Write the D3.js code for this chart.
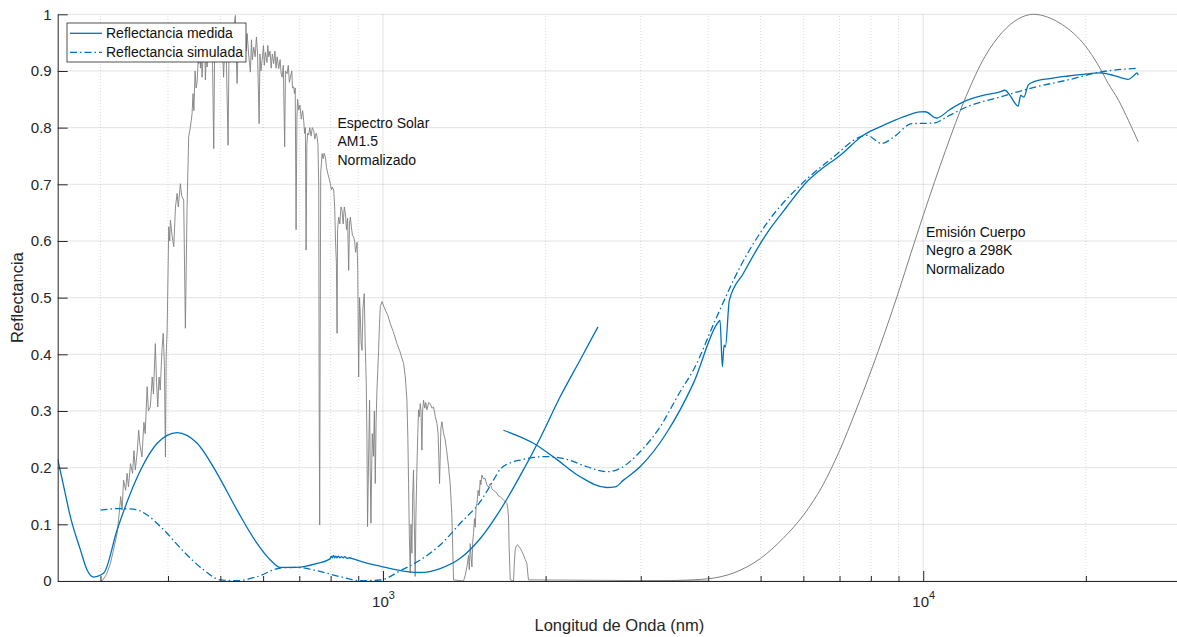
<!DOCTYPE html>
<html>
<head>
<meta charset="utf-8">
<script src="https://cdn.jsdelivr.net/npm/d3@7"></script>
<style>
  body { margin: 0; background: #fff; }
  svg { display: block; font-family: "Liberation Sans", Arial, Helvetica, sans-serif; }
</style>
</head>
<body>
<svg id="chart" width="1177" height="637"></svg>
<script>
// ---- data (wavelength in nm, value normalised 0..1) ----
const xMajorTicks = [1000, 10000]
const xMajorExp = ["3", "4"]
const xMinorTicks = [300, 400, 500, 600, 700, 800, 900, 2000, 3000, 4000, 5000, 6000, 7000, 8000, 9000, 20000]
const yTicks = [0, 0.1, 0.2, 0.3, 0.4, 0.5, 0.6, 0.7, 0.8, 0.9, 1]
const yTickLabels = ["0", "0.1", "0.2", "0.3", "0.4", "0.5", "0.6", "0.7", "0.8", "0.9", "1"]
const legendLabels = ["Reflectancia medida", "Reflectancia simulada"]

// AM1.5 solar spectrum, normalised
const solarSpectrum = [
  [300, 0], [302, 0], [308, 0.012], [313, 0.031], [318, 0.06], [322, 0.084], [325, 0.12], [327, 0.149],
  [329, 0.125], [331, 0.178], [334, 0.16], [336, 0.19], [338, 0.166], [341, 0.207], [344, 0.19],
  [346, 0.23], [348, 0.196], [351, 0.23], [353, 0.266], [355, 0.24], [358, 0.219], [361, 0.28],
  [363, 0.26], [366, 0.343], [368, 0.3], [371, 0.307], [374, 0.36], [376, 0.33], [379, 0.419],
  [381, 0.35], [383, 0.307], [385, 0.36], [387, 0.337], [390, 0.41], [392, 0.437], [394, 0.38],
  [395.7, 0.219], [397, 0.4], [398.6, 0.443], [401.3, 0.625], [403, 0.6], [404.2, 0.637], [407, 0.61],
  [410, 0.59], [413, 0.66], [415.9, 0.684], [418, 0.66], [421.7, 0.701], [424, 0.68], [427.7, 0.672],
  [430.8, 0.446], [433.9, 0.66], [436.9, 0.784], [440, 0.8], [443.3, 0.825], [445, 0.86], [446.7, 0.83],
  [449, 0.9], [451, 0.87], [452.9, 0.88], [455, 0.92], [456, 0.913], [458, 0.94], [459.3, 0.905],
  [461, 0.93], [462.6, 0.889], [464, 0.915], [465.9, 0.925], [467.5, 0.95], [469.2, 0.884], [471, 0.93],
  [472.6, 0.907], [474.5, 0.945], [475.9, 0.93], [477.5, 0.975], [479.3, 0.96], [481, 0.92],
  [483, 0.955], [486.1, 0.763], [488, 0.93], [490, 0.96], [493.2, 0.919], [496, 0.975], [498, 0.935],
  [500, 0.937], [503, 0.978], [505, 0.93], [507, 0.889], [510, 0.955], [513, 0.92], [516.8, 0.769],
  [519, 0.95], [521.9, 0.93], [525, 0.97], [528, 0.94], [531, 0.985], [533.1, 0.998], [535, 0.93],
  [537, 0.878], [540, 0.96], [542, 0.93], [544.5, 0.972], [547, 0.945], [550, 0.975], [552.3, 0.948],
  [556, 0.97], [558, 0.935], [560.6, 0.966], [564, 0.93], [568.3, 0.898], [571, 0.955], [573, 0.92],
  [576.5, 0.942], [580, 0.925], [583.2, 0.96], [586, 0.93], [589.9, 0.807], [592, 0.93], [594.5, 0.9],
  [597.5, 0.919], [601, 0.945], [603, 0.91], [606, 0.933], [610, 0.915], [612, 0.945], [614.6, 0.925],
  [618, 0.935], [621, 0.905], [624, 0.93], [627.7, 0.913], [631, 0.935], [634, 0.905], [637, 0.925],
  [641.3, 0.904], [645, 0.92], [648, 0.895], [650.7, 0.889], [654, 0.91], [657.7, 0.766], [660, 0.9],
  [664.6, 0.895], [668, 0.91], [671, 0.88], [674, 0.889], [678, 0.9], [680, 0.87], [683.4, 0.872],
  [686, 0.86], [688, 0.87], [690.5, 0.62], [693, 0.82], [695, 0.85], [698.3, 0.831], [702, 0.84],
  [706, 0.815], [710, 0.83], [713.2, 0.813], [716, 0.79], [718.5, 0.8], [720.6, 0.584], [723, 0.77],
  [725.5, 0.79], [728.6, 0.787], [732, 0.8], [736, 0.785], [740, 0.8], [744.3, 0.795], [748, 0.78],
  [752, 0.79], [755.2, 0.784], [758, 0.77], [760.5, 0.7], [762, 0.3], [763.6, 0.099], [765, 0.4],
  [767, 0.72], [771.5, 0.754], [775, 0.745], [778, 0.755], [782.4, 0.748], [786, 0.73], [790, 0.72],
  [795, 0.71], [799.2, 0.701], [803, 0.69], [806, 0.695], [810.5, 0.69], [814, 0.66], [817, 0.6],
  [820, 0.56], [822.4, 0.437], [824, 0.62], [828, 0.642], [832, 0.63], [836, 0.66], [840.2, 0.654],
  [844, 0.63], [848, 0.66], [852.1, 0.648], [856, 0.62], [860, 0.64], [864.1, 0.548], [867, 0.63],
  [870.3, 0.642], [874, 0.625], [878, 0.61], [882.6, 0.607], [886, 0.6], [890, 0.58], [895.5, 0.598],
  [898, 0.55], [901.6, 0.36], [905, 0.5], [908.1, 0.466], [911, 0.42], [914.6, 0.407], [918, 0.48],
  [923.3, 0.507], [927, 0.42], [931.3, 0.349], [934, 0.25], [936.4, 0.096], [940, 0.2], [944.5, 0.319],
  [947, 0.2], [950, 0.102], [953, 0.2], [955.4, 0.26], [960, 0.22], [964, 0.3], [967.8, 0.172],
  [971, 0.28], [974.7, 0.337], [978, 0.37], [981.5, 0.407], [985, 0.45], [988.6, 0.484], [995.8, 0.493],
  [1010, 0.478], [1020, 0.47], [1031.6, 0.454], [1045, 0.44], [1061.4, 0.419], [1075, 0.405],
  [1091.6, 0.384], [1100, 0.36], [1107.5, 0.319], [1112, 0.25], [1115.3, 0.172], [1119, 0.08],
  [1123.2, 0.014], [1127, 0.1], [1131.3, 0.049], [1135, 0.15], [1139.1, 0.196], [1143, 0.1],
  [1147.3, 0.008], [1151, 0.12], [1155.8, 0.202], [1160, 0.26], [1163.8, 0.302], [1168, 0.29],
  [1172.2, 0.313], [1176, 0.3], [1180.6, 0.231], [1184, 0.3], [1188.8, 0.319], [1195, 0.305],
  [1200, 0.315], [1206.2, 0.302], [1215, 0.315], [1223.3, 0.313], [1232, 0.305], [1240.6, 0.307],
  [1250, 0.29], [1258.7, 0.278], [1265, 0.26], [1272.7, 0.172], [1280, 0.27], [1285.7, 0.281],
  [1295, 0.26], [1303.9, 0.249], [1312, 0.23], [1322.4, 0.202], [1332, 0.17], [1341.7, 0.113],
  [1346, 0.06], [1351, 0.002], [1409.7, 0], [1420, 0.01], [1430.3, 0.025], [1440, 0.045],
  [1445, 0.02], [1450.5, 0.066], [1455, 0.045], [1461, 0.025], [1466, 0.07], [1471.1, 0.084],
  [1477, 0.11], [1482, 0.095], [1487, 0.13], [1492.6, 0.137], [1500, 0.16], [1507, 0.15],
  [1513.6, 0.178], [1518, 0.17], [1524.5, 0.187], [1535, 0.18], [1546.1, 0.181], [1556, 0.17],
  [1568, 0.166], [1579.5, 0.172], [1590, 0.163], [1601.8, 0.16], [1612, 0.158], [1625.2, 0.155],
  [1636, 0.15], [1648.2, 0.149], [1660, 0.146], [1671.5, 0.143], [1684, 0.14], [1696, 0.137],
  [1702, 0.128], [1707.5, 0.113], [1712, 0.06], [1720.1, 0.002], [1744.5, 0], [1750, 0.03],
  [1757, 0.055], [1765, 0.062], [1774.5, 0.064], [1784, 0.061], [1794.7, 0.058], [1808, 0.052],
  [1820.2, 0.046], [1834, 0.038], [1846.8, 0.031], [1853, 0.015], [1859.2, 0.002], [4000, 0]
]

// black body emission at 298K, normalised
const blackBody = [
  [3000, 0], [3500, 0.001], [4000, 0.004], [4450, 0.014], [5000, 0.04], [5500, 0.075], [6000, 0.116],
  [6500, 0.167], [7000, 0.23], [7500, 0.3], [8000, 0.37], [8500, 0.44], [9000, 0.51], [9500, 0.58],
  [10000, 0.645], [10500, 0.705], [11000, 0.76], [12000, 0.855], [13000, 0.925], [14000, 0.968],
  [15000, 0.992], [16000, 1.0], [17000, 0.995], [18000, 0.983], [19000, 0.966], [20000, 0.943],
  [21000, 0.913], [22000, 0.878], [23000, 0.848], [24000, 0.812], [25000, 0.775]
]

// measured reflectance, UV-VIS-NIR part
const measuredVis = [
  [250, 0.215], [256.6, 0.166], [263.9, 0.113], [275.4, 0.055], [283.5, 0.019], [291.5, 0.007],
  [304.2, 0.014], [322, 0.09], [356, 0.196], [382, 0.243], [416, 0.262], [453, 0.243], [493, 0.19],
  [537, 0.125], [585, 0.066], [619, 0.037], [646, 0.024], [693, 0.024], [755, 0.031], [798, 0.039],
  [802, 0.044], [806, 0.041], [810, 0.045], [814, 0.041], [818, 0.044], [822, 0.041], [827, 0.044],
  [832, 0.041], [838, 0.043], [844, 0.041], [850, 0.043], [858, 0.040], [866, 0.041], [880, 0.039],
  [930, 0.032], [989, 0.026], [1108, 0.0165], [1172, 0.015], [1276, 0.022], [1390, 0.04],
  [1514, 0.075], [1648, 0.125], [1795, 0.186], [1954, 0.252], [2128, 0.325], [2317, 0.39],
  [2500, 0.4485]
]

// measured reflectance, FTIR part
const measuredIr = [
  [1671, 0.266], [1899, 0.243], [2068, 0.219], [2317, 0.184], [2596, 0.165], [2690, 0.166],
  [2787, 0.178], [2992, 0.2016], [3353, 0.262], [3754, 0.3487], [4176, 0.457], [4206, 0.46],
  [4248, 0.378], [4279, 0.416], [4303, 0.413], [4377, 0.4956], [4645, 0.5427], [5132, 0.613],
  [5588, 0.66], [6085, 0.704], [6442, 0.725], [7015, 0.751], [7745, 0.7866], [8434, 0.804],
  [9187, 0.819], [9877, 0.8277], [10084, 0.828], [10588, 0.817], [11204, 0.832], [12032, 0.848],
  [12912, 0.857], [13868, 0.863], [14165, 0.866], [14470, 0.857], [14990, 0.838], [15146, 0.857],
  [15360, 0.854], [15643, 0.875], [15980, 0.8806], [17155, 0.8866], [18422, 0.8907], [19770, 0.894],
  [21232, 0.8965], [22465, 0.8924], [23280, 0.888], [23943, 0.885], [24460, 0.8907], [24880, 0.8965],
  [25000, 0.8924]
]

// simulated reflectance
const simulated = [
  [300, 0.125], [322, 0.1276], [345, 0.127], [366, 0.1164], [393, 0.09], [428, 0.0517], [466, 0.0194],
  [500, 0.002], [537, 0.0005], [585, 0.0076], [646, 0.0229], [693, 0.024], [755, 0.018], [834, 0.0076],
  [908, 0.0005], [989, 0.0018], [1076, 0.018], [1172, 0.037], [1276, 0.0635], [1390, 0.1018],
  [1514, 0.14], [1602, 0.178], [1648, 0.197], [1744, 0.2104], [1796, 0.2134], [1899, 0.218],
  [2011, 0.2195], [2190, 0.2146], [2385, 0.2016], [2596, 0.1928], [2650, 0.1935], [2748, 0.1988],
  [2992, 0.228], [3258, 0.272], [3548, 0.334], [3754, 0.372], [4147, 0.466], [4581, 0.554],
  [5132, 0.631], [5916, 0.698], [6817, 0.748], [7636, 0.7836], [7858, 0.7866], [8377, 0.772],
  [8826, 0.7836], [9522, 0.807], [10435, 0.808], [11204, 0.822], [12032, 0.8365], [13868, 0.854],
  [15980, 0.8707], [18422, 0.8836], [21232, 0.898], [25000, 0.905]
]

// ---- chart ----
const svg = d3.select('#chart')
const textColor = '#262626'
const blue = '#0072BD'
const grey = '#808080'

const x = d3.scaleLog().domain([250, 30000]).range([57.7, 1181])
const y = d3.scaleLinear().domain([0, 1]).range([581, 14.3])

// GRID
const grid = svg.append('g')
grid.selectAll('.hgrid').data(yTicks).join('line')
    .attr('x1', x.range()[0]).attr('x2', x.range()[1])
    .attr('y1', d => y(d)).attr('y2', d => y(d))
    .attr('stroke', textColor).attr('stroke-opacity', 0.13).attr('stroke-width', 1)
grid.selectAll('.vmajor').data(xMajorTicks).join('line')
    .attr('x1', d => x(d)).attr('x2', d => x(d))
    .attr('y1', y(0)).attr('y2', y(1))
    .attr('stroke', textColor).attr('stroke-opacity', 0.13).attr('stroke-width', 1)
grid.selectAll('.vminor').data(xMinorTicks).join('line')
    .attr('x1', d => x(d)).attr('x2', d => x(d))
    .attr('y1', y(0)).attr('y2', y(1))
    .attr('stroke', textColor).attr('stroke-opacity', 0.22).attr('stroke-width', 0.8)
    .attr('stroke-dasharray', '1,2')

// LINES
svg.append('clipPath').attr('id', 'plotclip').append('rect')
    .attr('x', x.range()[0]).attr('y', 0).attr('width', x.range()[1] - x.range()[0]).attr('height', y(0) + 1)

const line = d3.line().x(d => x(d[0])).y(d => y(d[1]))
const smooth = d3.line().curve(d3.curveMonotoneX).x(d => x(d[0])).y(d => y(d[1]))
const lines = svg.append('g').attr('clip-path', 'url(#plotclip)')

lines.append('path').datum(solarSpectrum).attr('d', line)
    .attr('fill', 'none').attr('stroke', grey).attr('stroke-width', 0.9).attr('stroke-linejoin', 'round')
lines.append('path').datum(blackBody).attr('d', smooth)
    .attr('fill', 'none').attr('stroke', grey).attr('stroke-width', 1)

lines.append('path').datum(measuredVis).attr('d', smooth)
    .attr('fill', 'none').attr('stroke', blue).attr('stroke-width', 1.3).attr('stroke-linejoin', 'round')
lines.append('path').datum(measuredIr).attr('d', smooth)
    .attr('fill', 'none').attr('stroke', blue).attr('stroke-width', 1.3).attr('stroke-linejoin', 'round')
lines.append('path').datum(simulated).attr('d', smooth)
    .attr('fill', 'none').attr('stroke', blue).attr('stroke-width', 1.3)
    .attr('stroke-dasharray', '7,3,1.5,3')

// AXES
const yAxis = svg.append('g')
    .attr('transform', `translate(${x.range()[0]},0)`)
    .call(d3.axisLeft(y).tickValues(yTicks).tickFormat((d, i) => yTickLabels[i]).tickSize(-10).tickSizeOuter(0).tickPadding(6))
yAxis.select('.domain').attr('stroke', textColor)
yAxis.selectAll('.tick line').attr('stroke', textColor)
yAxis.selectAll('text').attr('fill', textColor).style('font-size', '15px').style('font-family', 'inherit')

const xMinor = svg.append('g')
    .attr('transform', `translate(0,${y(0)})`)
    .call(d3.axisBottom(x).tickValues(xMinorTicks).tickFormat('').tickSize(-5).tickSizeOuter(0))
xMinor.select('.domain').attr('stroke', textColor)
xMinor.selectAll('.tick line').attr('stroke', textColor)

const xMajor = svg.append('g')
    .attr('transform', `translate(0,${y(0)})`)
    .call(d3.axisBottom(x).tickValues(xMajorTicks).tickFormat('').tickSize(-10).tickSizeOuter(0))
xMajor.select('.domain').remove()
xMajor.selectAll('.tick line').attr('stroke', textColor)
xMajor.selectAll('.tick').append('text')
    .attr('y', 26).attr('text-anchor', 'middle').attr('fill', textColor)
    .style('font-size', '15px')
    .each(function (d, i) {
        const t = d3.select(this)
        t.append('tspan').text('10')
        t.append('tspan').attr('dy', -8).style('font-size', '11px').text(xMajorExp[i])
    })

// AXIS TITLES
svg.append('text')
    .attr('x', (x.range()[0] + x.range()[1]) / 2).attr('y', 631)
    .attr('text-anchor', 'middle').attr('fill', textColor).style('font-size', '16.5px')
    .text('Longitud de Onda (nm)')
svg.append('text')
    .attr('transform', `translate(23,${(y(0) + y(1)) / 2}) rotate(-90)`)
    .attr('text-anchor', 'middle').attr('fill', textColor).style('font-size', '16.5px')
    .text('Reflectancia')

// ANNOTATIONS
const notes = [
    { px: 337.5, py: 128, lines: ['Espectro Solar', 'AM1.5', 'Normalizado'] },
    { px: 926, py: 237, lines: ['Emisión Cuerpo', 'Negro a 298K', 'Normalizado'] }
]
notes.forEach(n => {
    svg.append('g').selectAll('text').data(n.lines).join('text')
        .attr('x', n.px).attr('y', (d, i) => n.py + i * 18.4)
        .attr('fill', '#111').style('font-size', '14px')
        .text(d => d)
})

// LEGEND
const legend = svg.append('g').attr('transform', 'translate(67,23)')
legend.append('rect').attr('width', 179).attr('height', 39)
    .attr('fill', '#fff').attr('stroke', textColor).attr('stroke-width', 0.8)
legend.selectAll('line').data(legendLabels).join('line')
    .attr('x1', 3).attr('x2', 35)
    .attr('y1', (d, i) => 10.3 + i * 19).attr('y2', (d, i) => 10.3 + i * 19)
    .attr('stroke', blue).attr('stroke-width', 1.3)
    .attr('stroke-dasharray', (d, i) => i == 1 ? '7,3,1.5,3' : null)
legend.selectAll('text').data(legendLabels).join('text')
    .attr('x', 39).attr('y', (d, i) => 15.3 + i * 19)
    .attr('fill', '#111').style('font-size', '14px')
    .text(d => d)
</script>
</body>
</html>
